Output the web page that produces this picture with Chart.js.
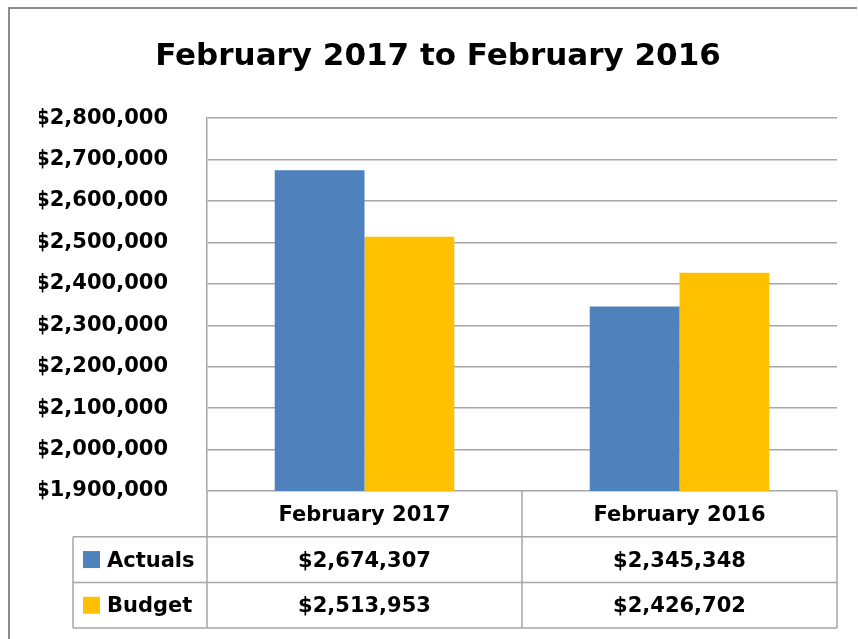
<!DOCTYPE html>
<html>
<head>
<meta charset="utf-8">
<script src="https://cdn.jsdelivr.net/npm/chart.js@4/dist/chart.umd.min.js"></script>
<style>
  html, body { margin: 0; padding: 0; background: #fff; overflow: hidden; }
  #wrap { width: 858px; height: 639px; position: relative; }
</style>
</head>
<body>
<div id="wrap"><canvas id="chart"></canvas></div>
<script>
// chart data
const categories = ["February 2017", "February 2016"];
const seriesNames = ["Actuals", "Budget"];
const actuals = [2674307, 2345348];
const budget = [2513953, 2426702];
const seriesColors = ["#4F81BD", "#FFC000"];
const yMin = 1900000;
const yMax = 2800000;
const yStep = 100000;

const FONT = "'DejaVu Sans', sans-serif";
const LINE = "#A6A6A6";
const money = v => "$" + v.toLocaleString("en-US");

// outer frame like the excel chart border (left and top edges only)
const framePlugin = {
  id: "frame",
  beforeDraw(chart) {
    const ctx = chart.ctx;
    ctx.save();
    ctx.strokeStyle = "#8C8C8C";
    ctx.lineWidth = 2;
    ctx.beginPath();
    ctx.moveTo(9, chart.height);
    ctx.lineTo(9, 8);
    ctx.lineTo(chart.width - 1, 8);
    ctx.stroke();
    ctx.restore();
  }
};

// data table under the plot, columns follow the x scale
const tablePlugin = {
  id: "dataTable",
  afterDraw(chart) {
    const ctx = chart.ctx;
    const area = chart.chartArea;
    const x = chart.scales.x;
    const rowH = 45.7;
    const legendLeft = 73;
    const top = area.bottom;
    const mid = (x.getPixelForValue(0) + x.getPixelForValue(1)) / 2;
    const cols = [area.left, mid, area.right];
    const bottom = top + rowH * 3;

    ctx.save();
    ctx.strokeStyle = LINE;
    ctx.lineWidth = 1.5;
    ctx.beginPath();
    for (let r = 1; r <= 3; r++) {
      const y = top + rowH * r;
      ctx.moveTo(legendLeft, y);
      ctx.lineTo(area.right, y);
    }
    ctx.moveTo(legendLeft, top + rowH);
    ctx.lineTo(legendLeft, bottom);
    cols.forEach(cx => {
      ctx.moveTo(cx, top);
      ctx.lineTo(cx, bottom);
    });
    ctx.stroke();

    ctx.fillStyle = "#000";
    ctx.font = "bold 21px " + FONT;
    ctx.textBaseline = "middle";
    ctx.textAlign = "center";

    // header row
    categories.forEach((c, i) => {
      ctx.fillText(c, x.getPixelForValue(i), top + rowH / 2 + 1.5);
    });

    const rows = [actuals, budget];
    rows.forEach((vals, r) => {
      const cy = top + rowH * (r + 1) + rowH / 2;
      ctx.fillStyle = seriesColors[r];
      ctx.fillRect(83, cy - 8.5, 17, 17);
      ctx.fillStyle = "#000";
      ctx.textAlign = "left";
      ctx.fillText(seriesNames[r], 107, cy + 1.5);
      ctx.textAlign = "center";
      vals.forEach((v, i) => {
        ctx.fillText(money(v), x.getPixelForValue(i), cy + 1.5);
      });
    });
    ctx.restore();
  }
};

new Chart(document.getElementById("chart"), {
  type: "bar",
  data: {
    labels: categories,
    datasets: [
      { label: seriesNames[0], data: actuals, backgroundColor: seriesColors[0] },
      { label: seriesNames[1], data: budget, backgroundColor: seriesColors[1] }
    ]
  },
  options: {
    responsive: true,
    maintainAspectRatio: false,
    animation: false,
    datasets: {
      bar: { categoryPercentage: 0.57, barPercentage: 1.0 }
    },
    layout: {
      padding: { left: 39, right: 21, top: 0, bottom: 148 }
    },
    scales: {
      x: {
        ticks: { display: false },
        grid: { display: false, drawTicks: false },
        border: { display: false }
      },
      y: {
        min: yMin,
        max: yMax,
        afterFit: scale => { scale.width = 168; },
        ticks: {
          stepSize: yStep,
          padding: 39,
          color: "#000",
          font: { family: FONT, size: 21, weight: "bold" },
          callback: v => money(v)
        },
        grid: { color: LINE, lineWidth: 1.5, drawTicks: false },
        border: { display: true, color: LINE, width: 1.5 }
      }
    },
    plugins: {
      legend: { display: false },
      tooltip: { enabled: false },
      title: {
        display: true,
        text: "February 2017 to February 2016",
        color: "#000",
        font: { family: FONT, size: 31, weight: "bold", lineHeight: 1.2 },
        padding: { top: 38, bottom: 43 }
      }
    }
  },
  plugins: [framePlugin, tablePlugin]
});
</script>
</body>
</html>
